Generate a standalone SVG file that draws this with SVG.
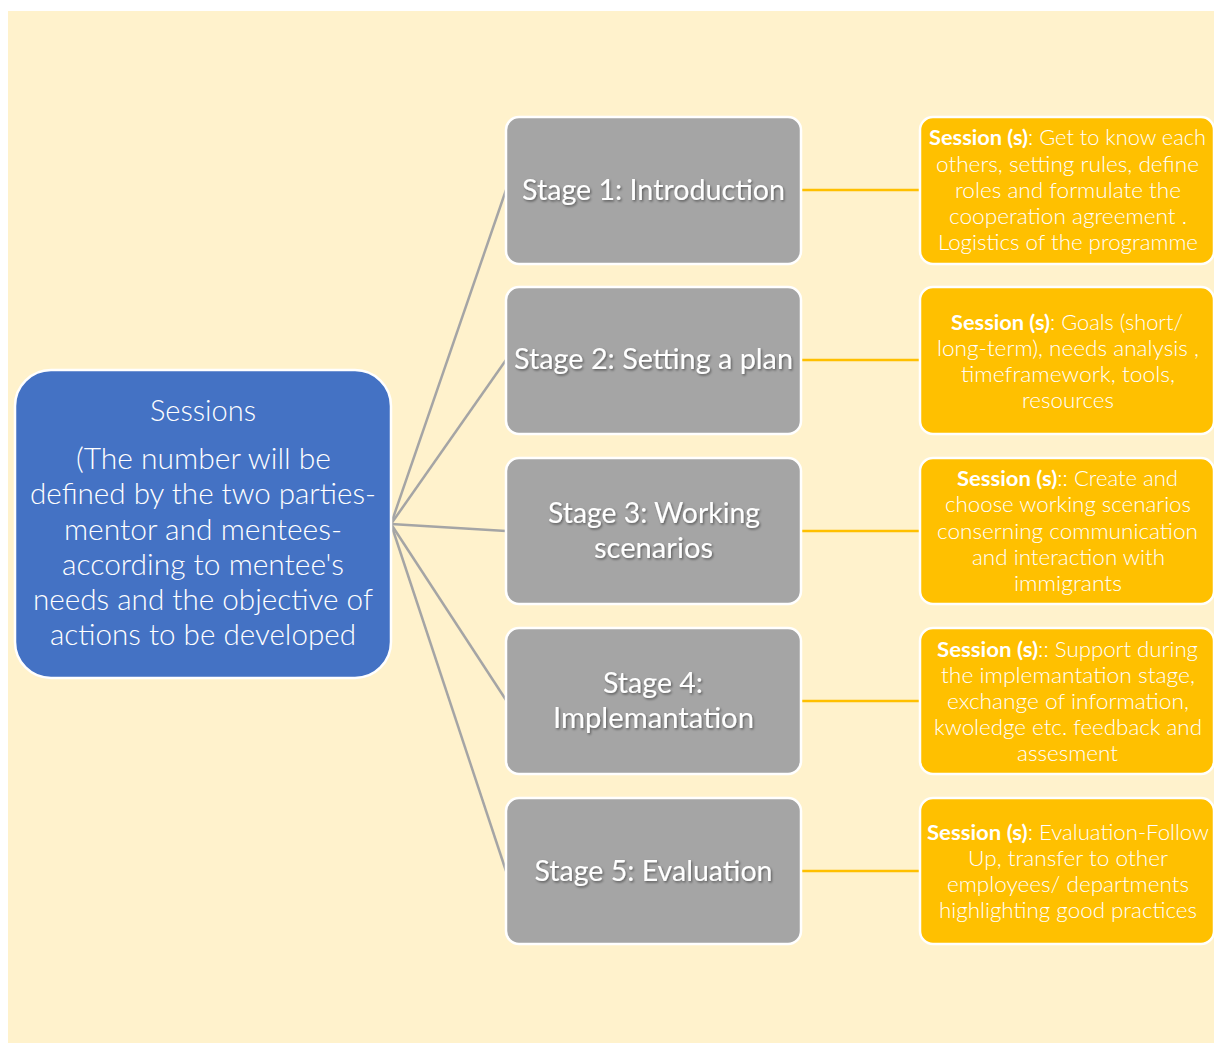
<svg xmlns="http://www.w3.org/2000/svg" width="1214" height="1044" viewBox="0 0 1214 1044">
<defs>
<style>
.bg{fill:#FFF2CC}
.hub{fill:#4472C4;stroke:#FFFFFF;stroke-width:2.5}
.stage{fill:#A5A5A5;stroke:#FFFFFF;stroke-width:2.5}
.sess{fill:#FFC000;stroke:#FFFFFF;stroke-width:2.5}
.gl{stroke:#A5A5A5;stroke-width:2.5;fill:none}
.ol{stroke:#FFC000;stroke-width:2.5;fill:none}
text{font-family:Lato,"Open Sans","Liberation Sans",sans-serif;fill:#FFFFFF;text-anchor:middle}
.ht{font-size:29px;font-weight:300}
.st{font-size:29px;font-weight:400;filter:url(#sh)}
.ss{font-size:21px;font-weight:300}
.b{font-weight:700}
</style>
<filter id="sh" x="-10%" y="-30%" width="120%" height="160%">
<feDropShadow dx="1.2" dy="1.5" stdDeviation="1" flood-color="#000000" flood-opacity="0.45"/>
</filter>
</defs>
<rect x="0" y="0" width="1214" height="1044" fill="#FFFFFF"/>
<rect class="bg" x="8" y="11" width="1206" height="1032"/>
<g id="connectors">
<line class="gl" x1="391" y1="524" x2="506" y2="190"/>
<line class="gl" x1="391" y1="524" x2="506" y2="360"/>
<line class="gl" x1="391" y1="524" x2="506" y2="531"/>
<line class="gl" x1="391" y1="524" x2="506" y2="700"/>
<line class="gl" x1="391" y1="524" x2="506" y2="871"/>
<line class="ol" x1="801" y1="190" x2="920" y2="190"/>
<line class="ol" x1="801" y1="360" x2="920" y2="360"/>
<line class="ol" x1="801" y1="531" x2="920" y2="531"/>
<line class="ol" x1="801" y1="701" x2="920" y2="701"/>
<line class="ol" x1="801" y1="871" x2="920" y2="871"/>
</g>
<g id="hub">
<rect class="hub" x="15" y="370" width="376" height="308" rx="36"/>
<text class="ht" x="203" y="421" textLength="106" lengthAdjust="spacingAndGlyphs">Sessions</text>
<text class="ht" x="203.5" y="469" textLength="255" lengthAdjust="spacingAndGlyphs">(The number will be</text>
<text class="ht" x="203" y="504" textLength="346" lengthAdjust="spacingAndGlyphs">defined by the two parties-</text>
<text class="ht" x="203" y="540" textLength="278" lengthAdjust="spacingAndGlyphs">mentor and mentees-</text>
<text class="ht" x="203" y="575" textLength="282" lengthAdjust="spacingAndGlyphs">according to mentee's</text>
<text class="ht" x="203" y="610" textLength="340" lengthAdjust="spacingAndGlyphs">needs and the objective of</text>
<text class="ht" x="203" y="645" textLength="306" lengthAdjust="spacingAndGlyphs">actions to be developed</text>
</g>
<g id="stage1">
<rect class="stage" x="506" y="117" width="295" height="147" rx="13"/>
<text class="st" x="653.5" y="200" textLength="263" lengthAdjust="spacingAndGlyphs">Stage 1: Introduction</text>
</g>
<g id="stage2">
<rect class="stage" x="506" y="287" width="295" height="147" rx="13"/>
<text class="st" x="653.5" y="369" textLength="279" lengthAdjust="spacingAndGlyphs">Stage 2: Setting a plan</text>
</g>
<g id="stage3">
<rect class="stage" x="506" y="458" width="295" height="146" rx="13"/>
<text class="st" x="654" y="523" textLength="212" lengthAdjust="spacingAndGlyphs">Stage 3: Working</text>
<text class="st" x="653.5" y="558" textLength="119" lengthAdjust="spacingAndGlyphs">scenarios</text>
</g>
<g id="stage4">
<rect class="stage" x="506" y="628" width="295" height="146" rx="13"/>
<text class="st" x="653" y="693" textLength="100" lengthAdjust="spacingAndGlyphs">Stage 4:</text>
<text class="st" x="653.5" y="728" textLength="201" lengthAdjust="spacingAndGlyphs">Implemantation</text>
</g>
<g id="stage5">
<rect class="stage" x="506" y="798" width="295" height="146" rx="13"/>
<text class="st" x="653.5" y="881" textLength="238" lengthAdjust="spacingAndGlyphs">Stage 5: Evaluation</text>
</g>
<g id="session1">
<rect class="sess" x="920" y="117" width="294" height="147" rx="13"/>
<text class="ss" x="1067.5" y="145" textLength="277" lengthAdjust="spacingAndGlyphs"><tspan class="b">Session (s)</tspan>: Get to know each</text>
<text class="ss" x="1067.5" y="171.5" textLength="263" lengthAdjust="spacingAndGlyphs">others, setting rules, define</text>
<text class="ss" x="1068" y="197.5" textLength="226" lengthAdjust="spacingAndGlyphs">roles and formulate the</text>
<text class="ss" x="1068" y="224" textLength="238" lengthAdjust="spacingAndGlyphs">cooperation agreement .</text>
<text class="ss" x="1068" y="250" textLength="260" lengthAdjust="spacingAndGlyphs">Logistics of the programme</text>
</g>
<g id="session2">
<rect class="sess" x="920" y="287" width="294" height="147" rx="13"/>
<text class="ss" x="1067" y="330" textLength="232" lengthAdjust="spacingAndGlyphs"><tspan class="b">Session (s)</tspan>: Goals (short/</text>
<text class="ss" x="1068" y="356" textLength="262" lengthAdjust="spacingAndGlyphs">long-term), needs analysis ,</text>
<text class="ss" x="1068" y="382" textLength="214" lengthAdjust="spacingAndGlyphs">timeframework, tools,</text>
<text class="ss" x="1068" y="408" textLength="92" lengthAdjust="spacingAndGlyphs">resources</text>
</g>
<g id="session3">
<rect class="sess" x="920" y="458" width="294" height="146" rx="13"/>
<text class="ss" x="1067.5" y="486" textLength="221" lengthAdjust="spacingAndGlyphs"><tspan class="b">Session (s)</tspan>:: Create and</text>
<text class="ss" x="1068" y="512" textLength="246" lengthAdjust="spacingAndGlyphs">choose working scenarios</text>
<text class="ss" x="1067.5" y="538.5" textLength="261" lengthAdjust="spacingAndGlyphs">conserning communication</text>
<text class="ss" x="1068.5" y="565" textLength="193" lengthAdjust="spacingAndGlyphs">and interaction with</text>
<text class="ss" x="1068" y="591" textLength="108" lengthAdjust="spacingAndGlyphs">immigrants</text>
</g>
<g id="session4">
<rect class="sess" x="920" y="628" width="294" height="146" rx="13"/>
<text class="ss" x="1067.5" y="657" textLength="261" lengthAdjust="spacingAndGlyphs"><tspan class="b">Session (s)</tspan>:: Support during</text>
<text class="ss" x="1068" y="682.5" textLength="254" lengthAdjust="spacingAndGlyphs">the implemantation stage,</text>
<text class="ss" x="1068" y="708.5" textLength="242" lengthAdjust="spacingAndGlyphs">exchange of information,</text>
<text class="ss" x="1068" y="735" textLength="268" lengthAdjust="spacingAndGlyphs">kwoledge etc. feedback and</text>
<text class="ss" x="1067.5" y="761" textLength="101" lengthAdjust="spacingAndGlyphs">assesment</text>
</g>
<g id="session5">
<rect class="sess" x="920" y="798" width="294" height="146" rx="13"/>
<text class="ss" x="1068" y="840" textLength="282" lengthAdjust="spacingAndGlyphs"><tspan class="b">Session (s)</tspan>: Evaluation-Follow</text>
<text class="ss" x="1068" y="866" textLength="200" lengthAdjust="spacingAndGlyphs">Up, transfer to other</text>
<text class="ss" x="1068" y="892" textLength="242" lengthAdjust="spacingAndGlyphs">employees/ departments</text>
<text class="ss" x="1068" y="918" textLength="258" lengthAdjust="spacingAndGlyphs">highlighting good practices</text>
</g>
</svg>
